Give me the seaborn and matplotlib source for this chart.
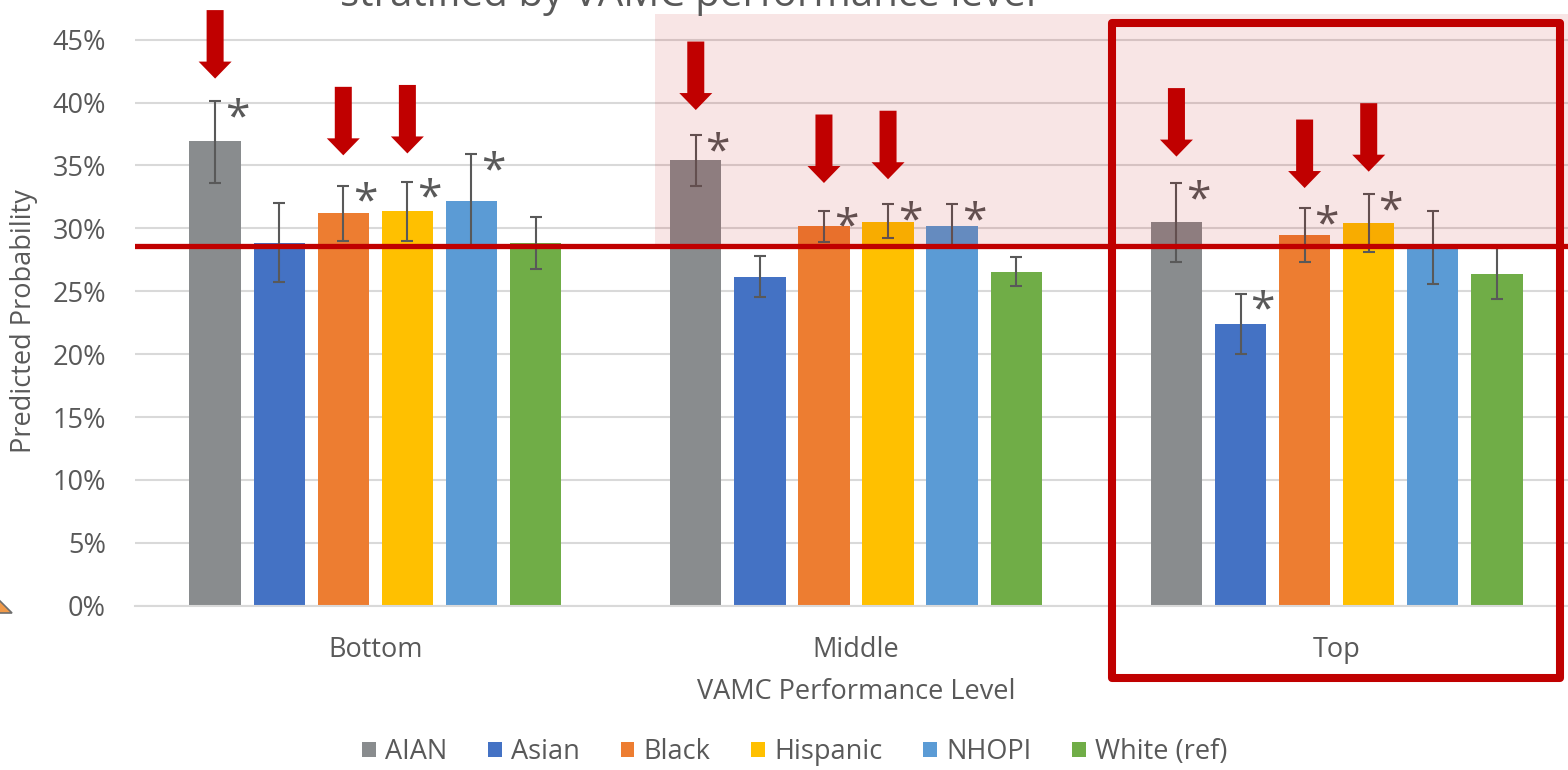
import numpy as np
import pandas as pd
import matplotlib
matplotlib.use("Agg")
import matplotlib.pyplot as plt
from matplotlib.patches import FancyArrow, Rectangle, Polygon
from matplotlib.ticker import PercentFormatter
import seaborn as sns

# ---- data -------------------------------------------------------------
levels = ["Bottom", "Middle", "Top"]
groups = ["AIAN", "Asian", "Black", "Hispanic", "NHOPI", "White (ref)"]
colors = ["#898C8E", "#4472C4", "#ED7D31", "#FFC000", "#5B9BD5", "#70AD47"]

# predicted probability (%) for Bottom, Middle, Top
aian = [36.9, 35.4, 30.5]
asian = [28.8, 26.1, 22.4]
black = [31.2, 30.2, 29.5]
hispanic = [31.4, 30.5, 30.4]
nhopi = [32.2, 30.2, 28.5]
white = [28.8, 26.5, 26.4]

# 95% confidence limits
aian_lo, aian_hi = [33.6, 33.4, 27.3], [40.1, 37.4, 33.6]
asian_lo, asian_hi = [25.7, 24.5, 20.0], [32.0, 27.8, 24.8]
black_lo, black_hi = [29.0, 28.9, 27.3], [33.4, 31.4, 31.6]
hispanic_lo, hispanic_hi = [29.0, 29.2, 28.1], [33.7, 31.9, 32.7]
nhopi_lo, nhopi_hi = [28.6, 28.5, 25.6], [35.9, 31.9, 31.4]
white_lo, white_hi = [26.8, 25.4, 24.4], [30.9, 27.7, 28.4]

# significant difference from White (ref), per level
aian_sig = [1, 1, 1]
asian_sig = [0, 0, 1]
black_sig = [1, 1, 1]
hispanic_sig = [1, 1, 1]
nhopi_sig = [1, 1, 0]
white_sig = [0, 0, 0]

# reference rate drawn as a horizontal line
reference_rate = 28.6

# highlighted groups and where their arrows point (%)
aian_arrow = [41.9, 39.4, 35.7]
black_arrow = [35.8, 33.6, 33.2]
hispanic_arrow = [35.95, 33.9, 34.5]

y_ticks = [0, 5, 10, 15, 20, 25, 30, 35, 40, 45]

values = [aian, asian, black, hispanic, nhopi, white]
lows = [aian_lo, asian_lo, black_lo, hispanic_lo, nhopi_lo, white_lo]
highs = [aian_hi, asian_hi, black_hi, hispanic_hi, nhopi_hi, white_hi]
sigs = [aian_sig, asian_sig, black_sig, hispanic_sig, nhopi_sig, white_sig]
arrows = {"AIAN": aian_arrow, "Black": black_arrow, "Hispanic": hispanic_arrow}

df = pd.DataFrame(
    [(lvl, g, v[i]) for g, v in zip(groups, values) for i, lvl in enumerate(levels)],
    columns=["level", "group", "value"],
)

# ---- figure -----------------------------------------------------------
W, H = 1568, 770
TXT = "#595959"
RED = "#C00000"
FS = 19.5
plt.rcParams["font.family"] = ["Open Sans", "DejaVu Sans"]

fig = plt.figure(figsize=(W / 100, H / 100), dpi=100)
ax_left, ax_right, ax_bottom = 135, 1577, 605.7
px_per_pct = 12.58
ax = fig.add_axes([ax_left / W, (H - ax_bottom) / H,
                   (ax_right - ax_left) / W, ax_bottom / H])

sns.barplot(data=df, x="level", y="value", hue="group", order=levels,
            hue_order=groups, palette=colors, saturation=1, width=0.8,
            gap=0.2, errorbar=None, ax=ax, zorder=2)

ax.set_xlim(-0.5, 2.5)
ax.set_ylim(0, ax_bottom / px_per_pct)
ax.set_yticks(y_ticks)
ax.yaxis.set_major_formatter(PercentFormatter(100, decimals=0))
ax.yaxis.grid(True, color="#D9D9D9", lw=1.5)
ax.set_axisbelow(True)
for s in ["top", "right", "left"]:
    ax.spines[s].set_visible(False)
ax.spines["bottom"].set_color("#D9D9D9")
ax.spines["bottom"].set_linewidth(1.5)
ax.tick_params(axis="both", length=0, labelsize=FS, labelcolor=TXT)
ax.tick_params(axis="y", pad=21)
ax.tick_params(axis="x", pad=21.5)

ax.set_xlabel("VAMC Performance Level", fontsize=FS, color=TXT)
ax.xaxis.label.set_va("center")
ax.xaxis.set_label_coords(0.5, -(692 - ax_bottom) / ax_bottom)
ax.set_ylabel("Predicted Probability", fontsize=FS, color=TXT)
ax.yaxis.label.set_va("center")
ax.yaxis.set_label_coords((24 - ax_left) / (ax_right - ax_left), (ax_bottom - 321) / ax_bottom)

# error bars, significance stars and arrows
x_unit = 480.5  # pixels per category
for gi, (g, cont) in enumerate(zip(groups, ax.containers)):
    xs = np.array([b.get_x() + b.get_width() / 2 for b in cont])
    v = np.array(values[gi])
    lo = np.array(lows[gi])
    hi = np.array(highs[gi])
    ax.errorbar(xs, v, yerr=[v - lo, hi - v], fmt="none", ecolor=TXT,
                elinewidth=1.5, capsize=4.5, capthick=1.5, zorder=3)
    for x, h, s in zip(xs, hi, sigs[gi]):
        if s:
            ax.annotate("*", (x, h), xytext=(22, -29), textcoords="offset pixels",
                        ha="center", va="baseline", fontsize=32, color=TXT, zorder=3)
    if g in arrows:
        length = 68.5 / px_per_pct
        for x, tip in zip(xs, arrows[g]):
            ax.add_patch(FancyArrow(x, tip + length, 0, -length,
                                    width=17 / x_unit, head_width=33 / x_unit,
                                    head_length=17 / px_per_pct,
                                    length_includes_head=True, color=RED, lw=0,
                                    zorder=6, clip_on=False))

# shaded region above the reference rate, from the middle level onward
shade_left = (655 - 375.5) / x_unit
shade_top = (ax_bottom - 14) / px_per_pct
ax.add_patch(Rectangle((shade_left, reference_rate), 3, shade_top - reference_rate,
                       facecolor=RED, alpha=0.1, lw=0, zorder=4, clip_on=True))

ax.axhline(reference_rate, color=RED, lw=3.8, zorder=5)

# outline around the top level
bx0 = (1112 - 375.5) / x_unit
bx1 = (1560 - 375.5) / x_unit
by0 = (ax_bottom - 678) / px_per_pct
by1 = (ax_bottom - 23) / px_per_pct
ax.add_patch(Rectangle((bx0, by0), bx1 - bx0, by1 - by0, fill=False,
                       edgecolor=RED, lw=5.8, joinstyle="round",
                       zorder=7, clip_on=False))

# legend
sns.move_legend(ax, "center",
                bbox_to_anchor=((795 - ax_left) / (ax_right - ax_left),
                                -(752 - ax_bottom) / ax_bottom),
                ncol=6, frameon=False, title=None, fontsize=FS,
                handlelength=0.5, handleheight=0.5, handletextpad=0.35,
                columnspacing=1.5, labelcolor=TXT)

# title (partly outside the canvas)
fig.text(688 / W, 1 - 6 / H, "stratified by VAMC performance level",
         ha="center", va="baseline", fontsize=29, color=TXT)

# small shape at the left edge
tri_px = [(-3, 598), (12, 613), (-3, 613)]
fig.add_artist(Polygon([(x / W, 1 - y / H) for x, y in tri_px], closed=True,
                       facecolor="#F09A4A", edgecolor="#6E6E6E", lw=1.2,
                       transform=fig.transFigure))

fig.savefig("out.png", dpi=100)
